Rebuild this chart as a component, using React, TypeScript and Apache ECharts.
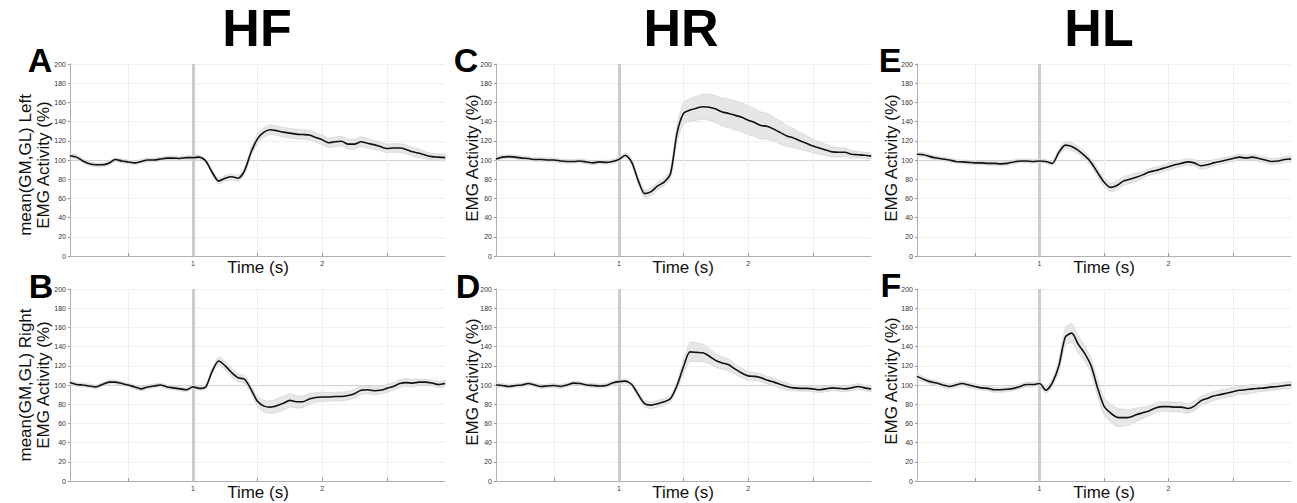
import React, { useEffect, useRef } from "react";
import * as echarts from "echarts";

const TIME = [
  0.05, 0.1, 0.15, 0.2, 0.25, 0.3, 0.35, 0.4, 0.45, 0.5,
  0.55, 0.6, 0.65, 0.7, 0.75, 0.8, 0.85, 0.9, 0.95, 1.0,
  1.05, 1.1, 1.15, 1.2, 1.25, 1.3, 1.35, 1.4, 1.45, 1.5,
  1.55, 1.6, 1.65, 1.7, 1.75, 1.8, 1.85, 1.9, 1.95, 2.0,
  2.05, 2.1, 2.15, 2.2, 2.25, 2.3, 2.35, 2.4, 2.45, 2.5,
  2.55, 2.6, 2.65, 2.7, 2.75, 2.8, 2.85, 2.9, 2.95,
];

const X_LABELS = [1, 2];
const X_TICKS = [0.5, 1, 1.5, 2, 2.5];
const STIMULUS_TIME = 1;

// A: HF left
const A_MEAN = [
  104.5, 103, 99, 96, 95, 95, 96.5, 100.5, 99, 98, 97, 98.5, 100, 100, 101, 102, 102, 101.5, 102.5, 102.5,
  103, 99, 87, 78, 81, 82.5, 81, 89, 108, 122,
  129, 131.5, 130.5, 129, 128, 127, 126.5, 126, 123.5, 121,
  118, 119, 119.5, 116.5, 116.5, 119, 117.5, 116, 114, 112,
  112.5, 112.5, 111, 108.5, 107, 105, 103.5, 103, 102.5,
];
const A_SE = [
  2, 2, 2, 2, 2, 2, 2, 2, 2, 2, 2, 2, 2, 2, 2, 2, 2, 2, 2, 2,
  2, 2, 2.5, 3, 3, 3, 3, 3.5, 4, 5,
  5, 5, 5, 5, 5, 5, 5, 5, 5, 5,
  5, 5, 5, 5, 5, 5, 5, 4.5, 4.5, 4.5,
  4.5, 4.5, 4.5, 4.5, 4.5, 3.5, 3.5, 3.5, 3.5,
];

// B: HF right
const B_MEAN = [
  102.5, 100.5, 100, 99, 98, 100.5, 103, 103, 101.5, 100, 98, 96, 98, 99, 100, 98, 97, 96, 95, 98,
  96.5, 98, 114.5, 125, 120, 113, 107.5, 106, 95.5, 83,
  78, 77, 78.5, 81, 84, 82.5, 82.5, 85.5, 87, 87.5,
  87.5, 88, 88, 89, 91, 94.5, 95, 94, 94.5, 96.5,
  98.5, 101.5, 102.5, 102, 103, 103, 102, 100.5, 101.5,
];
const B_SE = [
  2, 2, 2, 2, 2, 2, 2, 2, 2, 2, 2, 2, 2, 2, 2, 2, 2, 2, 2, 2,
  2, 2, 3, 4, 4.5, 4.5, 4, 4, 4, 5,
  6, 6.5, 7, 7.5, 7, 6.5, 6, 5.5, 5, 5,
  4.5, 4.5, 4.5, 4.5, 4.5, 4.5, 4, 4, 4, 4,
  4, 4, 4, 4, 3, 3, 3, 3, 3,
];

// C: HR left
const C_MEAN = [
  101, 103, 103.5, 103, 102, 101.5, 100.5, 100.5, 100, 100, 99, 98.5, 98.5, 99, 98, 97, 98, 97.5, 98.5, 100.5,
  105, 97.5, 78.5, 65, 67, 73, 77, 86, 128, 148.5,
  152, 154, 155.5, 155, 153, 150, 148.5, 146.5, 144.5, 141.5,
  139, 136, 135, 132, 128.5, 125, 123, 120, 117.5, 114.5,
  112.5, 110.5, 108.5, 108, 108, 106, 105.5, 105, 104,
];
const C_SE = [
  2, 2, 2, 2, 2, 2, 2, 2, 2, 2, 2, 2, 2, 2, 2, 2, 2, 2, 2, 2,
  2.5, 3, 3.5, 4, 4, 4, 4, 5, 9, 11,
  12, 12.5, 13, 13.5, 14, 14.5, 15, 15, 15, 15,
  14.5, 14, 13.5, 12.5, 12, 11, 10, 9, 8, 7,
  6.5, 6, 5.5, 5, 4.5, 4, 3.5, 3, 3,
];

// D: HR right
const D_MEAN = [
  100, 99.5, 98.5, 99.5, 100, 101.5, 100, 98.5, 99, 99.5, 98.5, 100, 102, 101.5, 100, 99.5, 99, 99.5, 102, 103.5,
  104, 100.5, 90, 80.5, 79, 80.5, 82.5, 86, 99.5, 119,
  134.5, 134, 133.5, 130, 125.5, 123, 121, 116.5, 112.5, 109.5,
  109, 107.5, 105, 103, 100.5, 98.5, 97, 96.5, 96.5, 96,
  95, 96, 97, 96.5, 96, 97, 98.5, 97, 96,
];
const D_SE = [
  2, 2, 2, 2, 2, 2, 2, 2, 2, 2, 2, 2, 2, 2, 2, 2, 2, 2, 2, 2,
  2, 2.5, 3, 3.5, 3.5, 3.5, 3.5, 3.5, 4, 7,
  10, 10, 9, 8, 7, 6.5, 6, 5.5, 5, 4.5,
  4, 4, 4, 4, 4, 4, 3, 3, 3, 3,
  3, 3, 3, 3, 3, 3, 3, 3, 3,
];

// E: HL left
const E_MEAN = [
  106, 105.5, 103.5, 102, 101, 100, 98.5, 98, 97.5, 97, 97, 96.5, 96.5, 96, 96.5, 98, 99, 99, 98.5, 99,
  98.5, 96.5, 108, 115.5, 114, 110, 104.5, 97.5, 87, 77,
  71.5, 73.5, 78, 80, 82, 84.5, 87.5, 89, 91, 93,
  95, 96.5, 98, 97, 94, 95, 97, 98.5, 100, 101.5,
  103, 102, 103, 101.5, 100, 98.5, 99, 100.5, 101,
];
const E_SE = [
  2, 2, 2, 2, 2, 2, 2, 2, 2, 2, 2, 2, 2, 2, 2, 2, 2, 2, 2, 2,
  2, 2, 3, 4, 4, 4, 4, 4, 4.5, 4.5,
  4.5, 4.5, 4.5, 4.5, 4.5, 3.5, 3.5, 3.5, 3.5, 3.5,
  3.5, 3.5, 3.5, 3.5, 3.5, 3.5, 3.5, 3, 3, 3,
  3, 3, 3, 3, 3, 3, 3, 3, 3,
];

// F: HL right
const F_MEAN = [
  109, 106, 103.5, 102, 100, 98.5, 100, 101.5, 100, 98.5, 97, 96.5, 95, 95, 95.5, 96.5, 98.5, 100.5, 100.5, 101.5,
  94.5, 102.5, 120, 150, 154, 142.5, 133, 120, 97, 78,
  71, 66.5, 66, 66.5, 69, 71, 73, 76, 77.5, 77.5,
  77, 77, 75.5, 78, 83.5, 86, 88.5, 90, 91.5, 93,
  94.5, 95, 96, 96.5, 97, 98, 98.5, 99.5, 100,
];
const F_SE = [
  3, 2.5, 2.5, 2.5, 2.5, 2.5, 2.5, 2.5, 2.5, 2.5, 2.5, 2.5, 2.5, 2.5, 2.5, 2.5, 2.5, 2.5, 2.5, 2.5,
  3, 4, 6, 9, 10, 9, 8, 8, 8, 9,
  9.5, 9.5, 9, 8, 7, 6, 5, 5, 5, 5,
  5, 5, 5, 5, 5, 5, 4.5, 4.5, 4.5, 4.5,
  4.5, 4.5, 4.5, 3.5, 3.5, 3.5, 3.5, 3.5, 3.5,
];

const COLUMN_TITLES = ["HF", "HR", "HL"];
const PANEL_LETTERS = ["A", "B", "C", "D", "E", "F"];
const Y_TITLE_LEFT = "mean(GM,GL) Left";
const Y_TITLE_RIGHT = "mean(GM,GL) Right";
const Y_TITLE = "EMG Activity (%)";
const X_TITLE = "Time (s)";

const FONT = "'Liberation Sans', Arial, Helvetica, sans-serif";

export default function App() {
  const ref = useRef<HTMLDivElement>(null);

  useEffect(() => {
    document.body.style.margin = "0";
    const chart = echarts.init(ref.current!, null, { renderer: "svg" });

    const panels = [
      { mean: A_MEAN, se: A_SE, col: 0, row: 0 },
      { mean: B_MEAN, se: B_SE, col: 0, row: 1 },
      { mean: C_MEAN, se: C_SE, col: 1, row: 0 },
      { mean: D_MEAN, se: D_SE, col: 1, row: 1 },
      { mean: E_MEAN, se: E_SE, col: 2, row: 0 },
      { mean: F_MEAN, se: F_SE, col: 2, row: 1 },
    ];
    const lefts = [70, 496, 917];
    const widths = [375, 375, 374];
    const tops = [64, 289];
    const H = 192;

    const grids: any[] = [];
    const xAxes: any[] = [];
    const yAxes: any[] = [];
    const series: any[] = [];
    const splitColors = ["#efefef", "#efefef", "#efefef", "#efefef", "#efefef", "#d0d0d0", "#efefef", "#efefef", "#efefef", "#efefef", "#efefef"];

    panels.forEach((p, k) => {
      grids.push({ left: lefts[p.col], top: tops[p.row], width: widths[p.col], height: H, containLabel: false });
      xAxes.push({
        type: "value",
        gridIndex: k,
        min: 0.05,
        max: 2.95,
        axisLine: { show: true, lineStyle: { color: "#b0b0b0", width: 1 } },
        axisTick: { show: true, inside: true, length: 3, customValues: X_TICKS, lineStyle: { color: "#999" } },
        axisLabel: { customValues: X_LABELS, fontSize: 7, color: "#333", margin: 4, fontFamily: FONT },
        splitLine: { show: true, lineStyle: { color: "#efefef", width: 1 } },
      });
      yAxes.push({
        type: "value",
        gridIndex: k,
        min: 0,
        max: 200,
        interval: 20,
        axisLine: { show: true, lineStyle: { color: "#b0b0b0", width: 1 } },
        axisTick: { show: true, length: 2, lineStyle: { color: "#999" } },
        axisLabel: { fontSize: 7, color: "#333", margin: 4, fontFamily: FONT },
        splitLine: { show: true, lineStyle: { color: splitColors, width: 1 } },
      });
      const mean = p.mean;
      const se = p.se;
      series.push({
        type: "custom",
        xAxisIndex: k,
        yAxisIndex: k,
        silent: true,
        z: 2,
        data: [[1, 100]],
        renderItem: (_params: any, api: any) => {
          const upper = TIME.map((t, i) => api.coord([t, mean[i] + se[i]]));
          const lower = TIME.map((t, i) => api.coord([t, mean[i] - se[i]])).reverse();
          return {
            type: "polygon",
            shape: { points: upper.concat(lower), smooth: 0.25 },
            style: { fill: "#e6e6e6", stroke: "#cfcfcf", lineWidth: 0.6 },
          };
        },
      });
      series.push({
        type: "line",
        xAxisIndex: k,
        yAxisIndex: k,
        data: TIME.map((t, i) => [t, mean[i]]),
        showSymbol: false,
        symbol: "none",
        smooth: 0.25,
        z: 4,
        silent: true,
        lineStyle: { color: "#111", width: 1.6 },
        markLine: {
          silent: true,
          symbol: ["none", "none"],
          z: 1,
          label: { show: false },
          lineStyle: { color: "#cccccc", width: 3, type: "solid" },
          data: [{ xAxis: STIMULUS_TIME }],
        },
      });
    });

    const graphic: any[] = [];
    const titleX = [257, 681, 1099];
    COLUMN_TITLES.forEach((t, i) => {
      graphic.push({
        type: "text",
        x: titleX[i],
        y: 28,
        style: { text: t, font: `bold 52px ${FONT}`, fill: "#000", align: "center", verticalAlign: "middle" },
      });
    });
    const letterPos = [
      [40, 60], [41, 286], [466, 60], [468, 286], [890, 60], [891, 285],
    ];
    PANEL_LETTERS.forEach((l, i) => {
      graphic.push({
        type: "text",
        x: letterPos[i][0],
        y: letterPos[i][1],
        style: { text: l, font: `bold 34px ${FONT}`, fill: "#000", align: "center", verticalAlign: "middle" },
      });
    });
    const yText = (text: string, x: number, y: number) => ({
      type: "text",
      x,
      y,
      rotation: Math.PI / 2,
      style: { text, font: `17px ${FONT}`, fill: "#111", align: "center", verticalAlign: "middle" },
    });
    graphic.push(yText(Y_TITLE_LEFT, 25, 165));
    graphic.push(yText(Y_TITLE, 43, 165));
    graphic.push(yText(Y_TITLE_RIGHT, 25, 385));
    graphic.push(yText(Y_TITLE, 43, 385));
    graphic.push(yText(Y_TITLE, 472, 158));
    graphic.push(yText(Y_TITLE, 472, 382));
    graphic.push(yText(Y_TITLE, 891, 158));
    graphic.push(yText(Y_TITLE, 891, 381));
    const timeX = [258, 683, 1104];
    const timeY = [267, 492];
    timeX.forEach((x) => {
      timeY.forEach((y) => {
        graphic.push({
          type: "text",
          x,
          y,
          style: { text: X_TITLE, font: `17px ${FONT}`, fill: "#111", align: "center", verticalAlign: "middle" },
        });
      });
    });

    chart.setOption({
      animation: false,
      backgroundColor: "#ffffff",
      grid: grids,
      xAxis: xAxes,
      yAxis: yAxes,
      series,
      graphic,
    });

    return () => chart.dispose();
  }, []);

  return <div ref={ref} style={{ width: 1297, height: 503 }} />;
}
